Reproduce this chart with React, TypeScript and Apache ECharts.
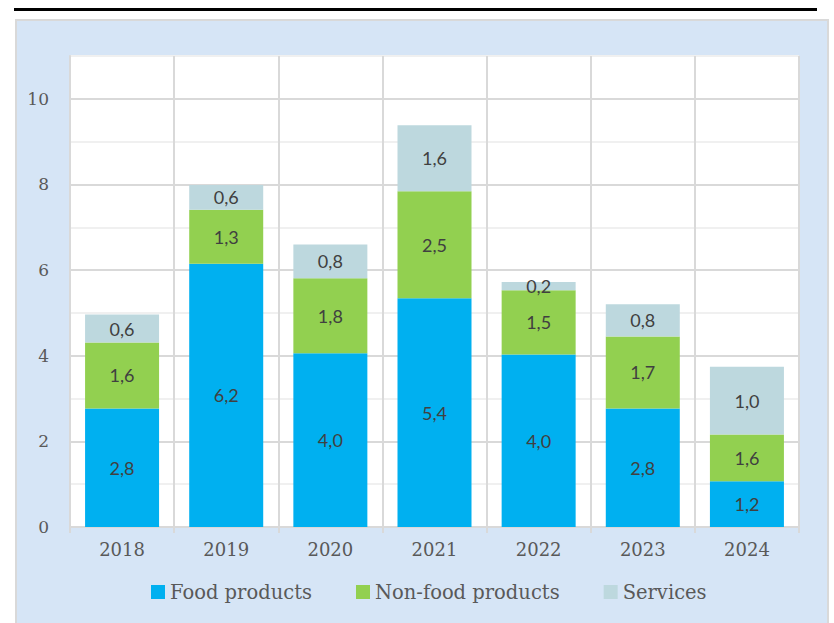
import React, { useEffect, useRef } from "react";
import * as echarts from "echarts";

const years = ["2018", "2019", "2020", "2021", "2022", "2023", "2024"];
// bar heights as drawn in the picture
const foodValues = [2.77, 6.15, 4.06, 5.34, 4.03, 2.77, 1.07];
const nonFoodValues = [1.54, 1.26, 1.75, 2.5, 1.5, 1.68, 1.09];
const servicesValues = [0.65, 0.58, 0.79, 1.54, 0.19, 0.75, 1.58];
// labels as printed in the picture
const foodLabels = [2.8, 6.2, 4.0, 5.4, 4.0, 2.8, 1.2];
const nonFoodLabels = [1.6, 1.3, 1.8, 2.5, 1.5, 1.7, 1.6];
const servicesLabels = [0.6, 0.6, 0.8, 1.6, 0.2, 0.8, 1.0];
const seriesNames = ["Food products", "Non-food products", "Services"];

const fmt = (v: number) => v.toFixed(1).replace(".", ",");

export default function App() {
  const ref = useRef<HTMLDivElement>(null);
  useEffect(() => {
    document.body.style.margin = "0";
    if (!ref.current) return;
    const chart = echarts.init(ref.current, undefined, { renderer: "svg" });
    const serifFont = "DejaVu Serif";
    const labelStyle = (labels: number[]) => ({
      show: true,
      position: "inside" as const,
      color: "#404040",
      fontFamily: "Lato",
      fontSize: 18,
      formatter: (p: any) => fmt(labels[p.dataIndex]),
    });
    chart.setOption({
      animation: false,
      grid: {
        left: 70,
        right: 35,
        top: 56,
        bottom: 96,
        show: true,
        backgroundColor: "#ffffff",
        borderWidth: 0,
      },
      legend: {
        top: 577,
        left: 146,
        itemWidth: 14,
        itemHeight: 14,
        itemGap: 44,
        icon: "rect",
        textStyle: { fontFamily: serifFont, fontSize: 19.5, color: "#595959" },
        data: seriesNames,
      },
      xAxis: {
        type: "category",
        data: years,
        axisLine: { lineStyle: { color: "#d9d9d9", width: 2 } },
        axisTick: { show: true, length: 6, lineStyle: { color: "#d9d9d9", width: 2 } },
        splitLine: { show: true, lineStyle: { color: "#d9d9d9", width: 2 } },
        axisLabel: { fontFamily: serifFont, fontSize: 18, color: "#595959", margin: 13 },
      },
      yAxis: {
        type: "value",
        min: 0,
        max: 11,
        interval: 1,
        axisLine: { show: true, lineStyle: { color: "#d9d9d9", width: 2 } },
        axisTick: { show: false },
        splitLine: { show: true, lineStyle: { color: ["#d9d9d9", "#f0f0f0"], width: 2 } },
        axisLabel: {
          fontFamily: serifFont,
          fontSize: 17,
          color: "#595959",
          margin: 21,
          formatter: (v: number) => (v % 2 === 0 ? String(v) : ""),
        },
      },
      series: [
        {
          name: seriesNames[0],
          type: "bar",
          stack: "total",
          barWidth: 74,
          data: foodValues,
          itemStyle: { color: "#00b0f0" },
          label: labelStyle(foodLabels),
        },
        {
          name: seriesNames[1],
          type: "bar",
          stack: "total",
          barWidth: 74,
          data: nonFoodValues,
          itemStyle: { color: "#92d050" },
          label: labelStyle(nonFoodLabels),
        },
        {
          name: seriesNames[2],
          type: "bar",
          stack: "total",
          barWidth: 74,
          data: servicesValues,
          itemStyle: { color: "#bdd8de" },
          label: labelStyle(servicesLabels),
        },
      ],
    });
    return () => chart.dispose();
  }, []);
  return (
    <div style={{ position: "absolute", left: 0, top: 0, width: 834, height: 623, background: "#ffffff", overflow: "hidden" }}>
      <div style={{ position: "absolute", left: 14, top: 8, width: 803, height: 3, background: "#000000" }} />
      <div
        style={{
          position: "absolute",
          left: 15,
          top: 19,
          width: 810,
          height: 620,
          background: "#d6e5f6",
          border: "2px solid #d9d9d9",
        }}
      />
      <div ref={ref} style={{ position: "absolute", left: 0, top: 0, width: 834, height: 623 }} />
    </div>
  );
}
